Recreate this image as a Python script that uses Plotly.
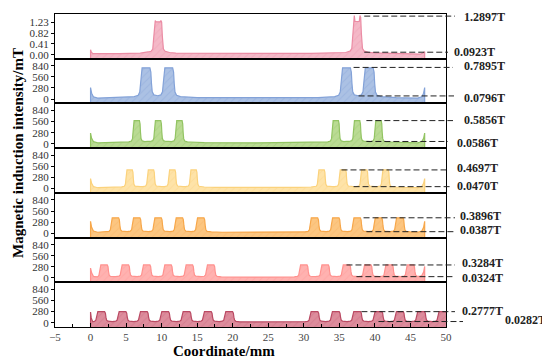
import numpy as np
import plotly.graph_objects as go
from plotly.subplots import make_subplots

# ---------------- data ----------------
# panel 1 (values in T)
centers_1 = [9.5, 37.5]
tops_1 = [1.29, 1.48]
mids_1 = [1.24, 1.24]
base_x_1 = [0, 0.1, 0.3, 1, 4, 7, 8.3, 9.5, 10.7, 12, 16, 23.5, 31, 35, 36.3, 37.5, 38.7, 40, 43, 46.4, 46.7, 46.9, 47]
base_y_1 = [0.19, 0.1, 0.04, 0.035, 0.04, 0.055, 0.09, 0.1, 0.09, 0.06, 0.05, 0.045, 0.05, 0.06, 0.09, 0.1, 0.09, 0.07, 0.04, 0.02, 0.05, 0.09, 0.11]

# panels 2-7 (values in mT)
centers_2 = [7.8, 11.0, 36.0, 39.2]
peak_2 = 789.5
base_x_2 = [0, 0.15, 0.4, 1.0, 4.0, 6.5, 9.4, 12.3, 15, 23.5, 32, 34.7, 37.6, 40.5, 43, 46.0, 46.6, 46.85, 47]
base_y_2 = [290, 150, 60, 25, 35, 65, 79.6, 65, 35, 28, 35, 65, 79.6, 65, 35, 25, 60, 150, 290]

centers_3 = [6.5, 9.5, 12.5, 34.5, 37.5, 40.5]
peak_3 = 585.6
base_x_3 = [0, 0.15, 0.4, 1.0, 3.5, 5.0, 8, 11, 14, 16, 23.5, 31, 33, 36, 39, 42, 43.5, 46, 46.6, 46.85, 47]
base_y_3 = [270, 140, 55, 22, 28, 45, 58.6, 58.6, 45, 30, 25, 30, 45, 58.6, 58.6, 45, 30, 22, 55, 140, 270]

centers_4 = [5.5, 8.5, 11.5, 14.5, 32.5, 35.5, 38.5, 41.5]
peak_4 = 469.7
base_x_4 = [0, 0.15, 0.4, 1.0, 3, 4, 7, 10, 13, 16, 17.5, 23.5, 29.5, 31, 34, 37, 40, 43, 44.5, 46, 46.6, 46.85, 47]
base_y_4 = [250, 130, 50, 20, 25, 38, 47, 47, 47, 38, 28, 22, 28, 38, 47, 47, 47, 38, 25, 20, 50, 130, 250]

centers_5 = [3.5, 6.5, 9.5, 12.5, 15.5, 31.5, 34.5, 37.5, 40.5, 43.5]
peak_5 = 389.6
base_x_5 = [0, 0.15, 0.4, 1.0, 2, 5, 8, 11, 14, 17, 18.5, 23.5, 28.5, 30, 33, 36, 39, 42, 45, 46, 46.6, 46.85, 47]
base_y_5 = [300, 150, 55, 25, 32, 38.7, 38.7, 38.7, 38.7, 32, 25, 20, 25, 32, 38.7, 38.7, 38.7, 38.7, 32, 25, 55, 150, 300]

centers_6 = [1.9, 4.9, 7.9, 10.9, 13.9, 16.9, 30.0, 33.0, 36.0, 39.0, 42.0, 45.0]
peak_6 = 328.4
base_x_6 = [0, 0.15, 0.4, 0.8, 3.4, 6.4, 9.4, 12.4, 15.4, 18.4, 20, 23.5, 27, 28.5, 31.5, 34.5, 37.5, 40.5, 43.5, 46.2, 46.6, 46.85, 47]
base_y_6 = [250, 130, 40, 15, 32.4, 32.4, 32.4, 32.4, 32.4, 25, 20, 18, 20, 25, 32.4, 32.4, 32.4, 32.4, 32.4, 30, 60, 150, 290]

centers_7 = [1.5, 4.5, 7.5, 10.5, 13.5, 16.5, 19.5, 31.5, 34.5, 37.5, 40.5, 43.5, 46.5, 49.5]
peak_7 = 277.7
base_x_7 = [0, 0.1, 0.3, 3, 6, 9, 12, 15, 18, 21, 23, 25.5, 28, 30, 33, 36, 39, 42, 45, 48, 51]
base_y_7 = [270, 120, 20, 28.2, 28.2, 28.2, 28.2, 28.2, 28.2, 22, 18, 16, 18, 22, 28.2, 28.2, 28.2, 28.2, 28.2, 28.2, 28.2]

x_end = [47, 47, 47, 47, 47, 47, 51]

# shape of one pulse (offset from centre, fraction of peak height)
pulse_dx = [-1.5, -1.0, -0.8, -0.7, -0.62, -0.5, 0.5, 0.62, 0.7, 0.8, 1.0, 1.5]
pulse_f = [0, 0.04, 0.15, 0.45, 0.85, 1.0, 1.0, 0.85, 0.45, 0.15, 0.04, 0]
pulse_width = [1.0, 1.1, 0.75, 0.75, 0.9, 0.9, 0.95]
horn_dx = [-1.6, -1.0, -0.75, -0.6, -0.5, -0.4, -0.3, 0.3, 0.4, 0.5, 0.6, 0.75, 1.0, 1.6]

# labels on the right
label_top = ["1.2897T", "0.7895T", "0.5856T", "0.4697T", "0.3896T", "0.3284T", "0.2777T"]
label_low = ["0.0923T", "0.0796T", "0.0586T", "0.0470T", "0.0387T", "0.0324T", "0.0282T"]
dash_top_val = [1.46, 800, 586, 470, 390, 328, 278]
dash_low_val = [0.0923, 79.6, 58.6, 47.0, 38.7, 32.4, 28.2]
dash_top_start = [38.5, 37.0, 38.8, 35.3, 38.4, 36.0, 38.1]
dash_low_start = [38.5, 37.7, 38.8, 37.0, 38.8, 37.4, 40.5]

fill_colors = ["#F4B8C7", "#ABC1E4", "#BADB93", "#FEE3A8", "#FCC681", "#FFB2B0", "#DD8C9C"]
line_colors = ["#EB8CA4", "#83A2D8", "#92C462", "#FBD27C", "#F7A74A", "#FF918E", "#BA4A63"]
hatch_colors = ["rgba(220,110,140,0.35)", "rgba(90,125,200,0.35)", "rgba(110,170,60,0.35)",
                "rgba(245,190,90,0.35)", "rgba(240,150,60,0.35)", "rgba(250,120,120,0.35)",
                "rgba(170,60,90,0.35)"]

x_ticks = [-5, 0, 5, 10, 15, 20, 25, 30, 35, 40, 45, 50]
y_ticks_1 = [0, 0.41, 0.82, 1.23]
y_ticktext_1 = ["0.00", "0.41", "0.82", "1.23"]
y_ticks_mT = [0, 280, 560, 840]

# ---------------- build ----------------
N = 7
y_range_1 = [-0.154, 1.54]
y_range_mT = [-110, 1020]
x_range = [-5, 50]

fig = make_subplots(rows=N, cols=1, shared_xaxes=True, vertical_spacing=0)


def build(base_x, base_y, centers, tops, dxs, fracs, xe):
    xs = set(base_x)
    for c, dx in zip(centers, dxs):
        for d in dx:
            xs.add(round(c + d, 4))
    xs = np.array(sorted(v for v in xs if 0 <= v <= xe))
    b = np.interp(xs, base_x, base_y)
    y = b.copy()
    for c, t, dx, fr in zip(centers, tops, dxs, fracs):
        fx = np.interp(xs, c + np.array(dx), fr, left=0, right=0)
        y = np.maximum(y, b + (t - b) * fx)
    return xs, y


panels = []
fr1 = []
for t, m in zip(tops_1, mids_1):
    mf = m / t
    fr1.append([0, 0.03, 0.1, 0.5, 0.95, 1.0, mf, mf, 1.0, 0.95, 0.5, 0.1, 0.03, 0])
panels.append((base_x_1, base_y_1, centers_1, tops_1, [horn_dx] * 2, fr1))
for k, (bx, by, cs, pk) in enumerate([
        (base_x_2, base_y_2, centers_2, peak_2),
        (base_x_3, base_y_3, centers_3, peak_3),
        (base_x_4, base_y_4, centers_4, peak_4),
        (base_x_5, base_y_5, centers_5, peak_5),
        (base_x_6, base_y_6, centers_6, peak_6),
        (base_x_7, base_y_7, centers_7, peak_7)], start=1):
    w = pulse_width[k]
    dxs = [[d * w for d in pulse_dx]] * len(cs)
    panels.append((bx, by, cs, [pk] * len(cs), dxs, [pulse_f] * len(cs)))

serif = "Liberation Serif, Times New Roman, serif"

for i, (bx, by, cs, tops, dxs, frs) in enumerate(panels):
    row = i + 1
    r = y_range_1 if i == 0 else y_range_mT
    xs, ys = build(bx, by, cs, tops, dxs, frs, x_end[i])
    px = np.concatenate([[0], xs, [x_end[i]]])
    py = np.concatenate([[r[0]], ys, [r[0]]])
    fig.add_trace(go.Scatter(
        x=px, y=py, mode="lines", fill="toself",
        fillcolor=fill_colors[i],
        fillpattern=dict(shape="/", bgcolor=fill_colors[i], fgcolor=hatch_colors[i],
                         size=5, solidity=0.2),
        line=dict(color=line_colors[i], width=1.2),
        showlegend=False, hoverinfo="skip"), row=row, col=1)

    ya = dict(range=r, showline=True, mirror=True, linecolor="black", linewidth=1.2,
              ticks="outside", ticklen=3, tickwidth=1, tickcolor="black",
              showgrid=False, zeroline=False,
              tickfont=dict(family=serif, size=11, color="#333"))
    if i == 0:
        ya.update(tickvals=y_ticks_1, ticktext=y_ticktext_1)
    else:
        ya.update(tickvals=y_ticks_mT)
    fig.update_yaxes(row=row, col=1, **ya)

    xa = dict(range=x_range, showline=True, mirror=True, linecolor="black", linewidth=1.2,
              showgrid=False, zeroline=False)
    if row == N:
        xa.update(ticks="inside", tickvals=x_ticks, ticklen=4, tickcolor="black",
                  minor=dict(ticks="inside", dtick=2.5, tick0=0, ticklen=3, tickcolor="black"),
                  tickfont=dict(family=serif, size=11, color="#444"))
    else:
        xa.update(ticks="", showticklabels=False)
    fig.update_xaxes(row=row, col=1, **xa)

# the page body has an 8px margin, so the figure is drawn offset by 8px
OFF = 8
FIG_W, FIG_H = 550 - OFF, 361 - OFF
L, T = 55 - OFF, 14 - OFF
R = FIG_W - (446 - OFF)
B = FIG_H - (327 - OFF)
W, H = FIG_W - L - R, FIG_H - T - B


def px_to_xpaper(p):
    return (p - OFF - L) / W


def py_to_ypaper(p):
    return (327 - p) / H


def val_to_ypaper(i, v):
    r = y_range_1 if i == 0 else y_range_mT
    dom0 = (N - 1 - i) / N
    return dom0 + (v - r[0]) / (r[1] - r[0]) / N


dash_end_top = [455, 453, 453, 446, 455, 455, 455]
dash_end_low = [448, 454, 448, 450, 455, 455, 463]
text_x_top = [462, 462, 462, 455, 458, 460, 460]
text_x_low = [452, 462, 455, 455, 458, 460, 503]
text_y_top = [17, 66, 120, 168, 216, 263, 311]
text_y_low = [52, 98, 143, 186, 230, 278, 320]

for i in range(N):
    for val, xs0, xe_px, txt, tx, ty in [
            (dash_top_val[i], dash_top_start[i], dash_end_top[i], label_top[i], text_x_top[i], text_y_top[i]),
            (dash_low_val[i], dash_low_start[i], dash_end_low[i], label_low[i], text_x_low[i], text_y_low[i])]:
        yp = val_to_ypaper(i, val)
        fig.add_shape(type="line", xref="paper", yref="paper",
                      x0=(xs0 - x_range[0]) / (x_range[1] - x_range[0]), x1=px_to_xpaper(xe_px),
                      y0=yp, y1=yp, line=dict(color="#222", width=1, dash="6px,3px"))
        fig.add_annotation(text="<b>%s</b>" % txt, xref="paper", yref="paper",
                           x=px_to_xpaper(tx), y=py_to_ypaper(ty), xanchor="left", yanchor="middle",
                           showarrow=False, font=dict(family=serif, size=12, color="#222"))

fig.add_annotation(text="<b>Magnetic induction intensity/mT</b>", xref="paper", yref="paper",
                   x=px_to_xpaper(18), y=py_to_ypaper(153), textangle=-90,
                   xanchor="center", yanchor="middle", showarrow=False,
                   font=dict(family=serif, size=15, color="black"))
fig.add_annotation(text="<b>Coordinate/mm</b>", xref="paper", yref="paper",
                   x=px_to_xpaper(224), y=py_to_ypaper(351),
                   xanchor="center", yanchor="middle", showarrow=False,
                   font=dict(family=serif, size=15, color="black"))

fig.update_layout(width=FIG_W, height=FIG_H, margin=dict(l=L, r=R, t=T, b=B, autoexpand=False),
                  paper_bgcolor="white", plot_bgcolor="white", showlegend=False)

fig.write_html("out.html")
